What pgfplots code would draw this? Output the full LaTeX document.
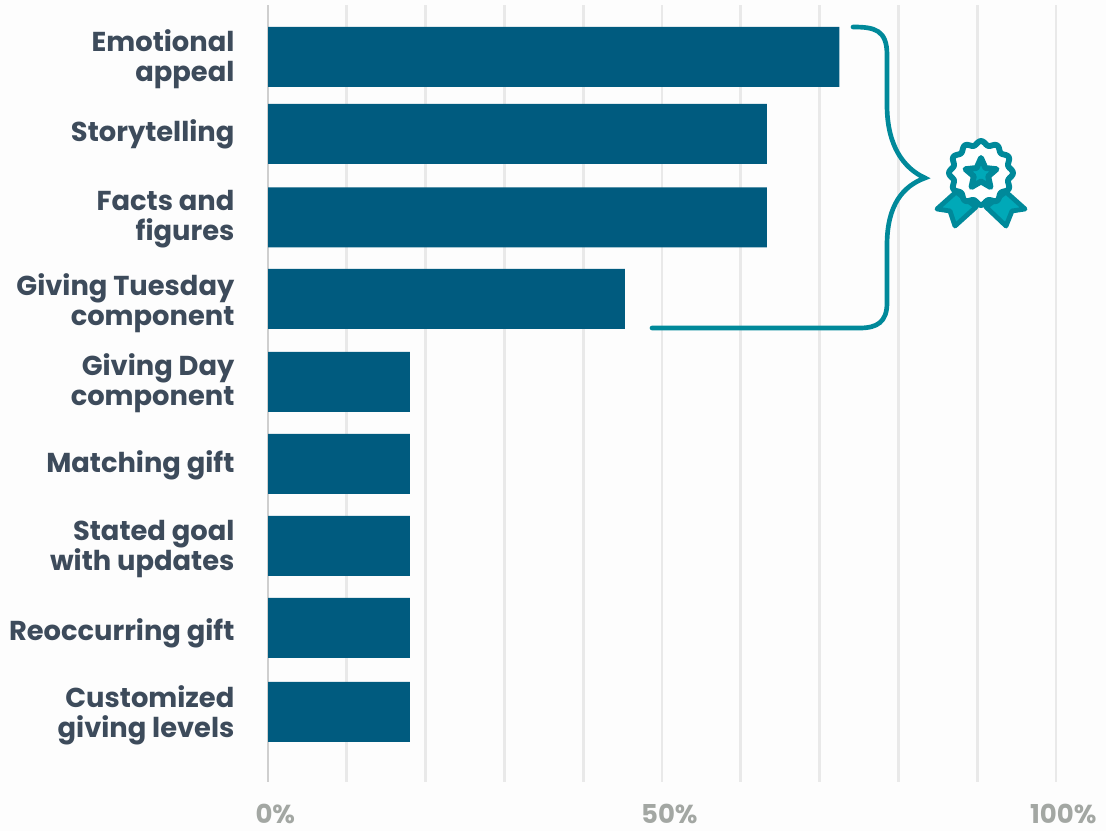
\documentclass[border=0pt]{standalone}
\usepackage{fontspec}
\setmainfont{Poppins}
\usepackage{pgfplots}
\pgfplotsset{compat=1.18}
\definecolor{barblue}{HTML}{005B7F}
\definecolor{labelslate}{HTML}{3D4B5B}
\definecolor{tickgrey}{HTML}{A3A7A3}
\definecolor{gridgrey}{HTML}{E9E9E9}
\definecolor{zerogrey}{HTML}{CFCFCF}
\definecolor{tealdark}{HTML}{00899A}
\definecolor{tealfill}{HTML}{00A9B8}
\definecolor{paper}{HTML}{FDFDFD}
\begin{document}
\begin{tikzpicture}
\path[use as bounding box, fill=paper] (0,0) rectangle (829.5pt,623.25pt);
\begin{axis}[
  at={(201pt,36.75pt)}, anchor=south west,
  scale only axis, width=591pt, height=582.75pt,
  xmin=0, xmax=100, ymin=49, ymax=826,
  axis line style={draw=none},
  major tick length=0pt, minor tick length=0pt,
  xtick={0,50,100},
  minor xtick={10,20,30,40,60,70,80,90},
  xticklabels={0\%,50\%,100\%},
  xticklabel style={font=\fontsize{19.5}{22}\selectfont\bfseries, text=tickgrey, xshift=5.5pt, yshift=-13pt},
  xmajorgrids, xminorgrids,
  major x grid style={draw=gridgrey, line width=2pt},
  minor x grid style={draw=gridgrey, line width=2pt},
  ytick={772,697,612,528,448,366,282,198,116},
  yticklabels={Emotional\\appeal, Storytelling, Facts and\\figures, Giving Tuesday\\component, Giving Day\\component, Matching gift, Stated goal\\with updates, Reoccurring gift, Customized\\giving levels},
  yticklabel style={font=\fontsize{20.5}{22.5}\selectfont\bfseries, text=labelslate, align=right, inner sep=0pt, xshift=-25pt},
  clip=false,
]
\addplot[zerogrey, line width=2pt] coordinates {(0,49) (0,826)};
% Bars sit at their own vertical positions, so each is placed by its centre
\addplot[xbar, bar width=45pt, bar shift=0pt, fill=barblue, draw=none] coordinates {
  (72.5,774) (63.3,697) (63.3,613.5) (45.3,532) (18,449) (18,367) (18,285) (18,203) (18,119)
};
\end{axis}
\begin{scope}[x=0.75pt, y=-0.75pt, yshift=623.25pt]
  % Brace gathering the top four bars
  \draw[tealdark, line width=3.5pt, line cap=round, line join=miter]
    (853,27) .. controls (875,27) and (887,30) .. (887,55)
    -- (887,105) .. controls (887,145) and (903,168) .. (925,178)
    .. controls (903,186) and (887,205) .. (887,245)
    -- (887,303) .. controls (887,322) and (877,328) .. (860,328)
    -- (652,328);
  % Award ribbons
  \begin{scope}[draw=tealdark, fill=tealfill, line width=3.6pt, line join=round]
    \filldraw (937,209) -- (956,192) -- (976,207) -- (955,226) -- (950,211) -- cycle;
    \filldraw (1025,209) -- (1006,192) -- (986,207) -- (1006,226) -- (1012,211) -- cycle;
  \end{scope}
  % Scalloped rosette and star
  \filldraw[draw=tealdark, fill=white, line width=4.4pt, line join=round]
    plot[domain=0:360, samples=145, smooth cycle]
    ({981+(30+2*cos(12*\x))*cos(\x+90)}, {173-(30+2*cos(12*\x))*sin(\x+90)});
  \filldraw[draw=tealdark, fill=tealfill, line width=4.4pt, line join=round]
    (981,158) -- (985.4,168) -- (996.5,169.2) -- (988.2,176.3) -- (990.5,187)
    -- (981,181.5) -- (971.5,187) -- (973.8,176.3) -- (965.5,169.2) -- (976.6,168) -- cycle;
\end{scope}
\end{tikzpicture}
\end{document}
